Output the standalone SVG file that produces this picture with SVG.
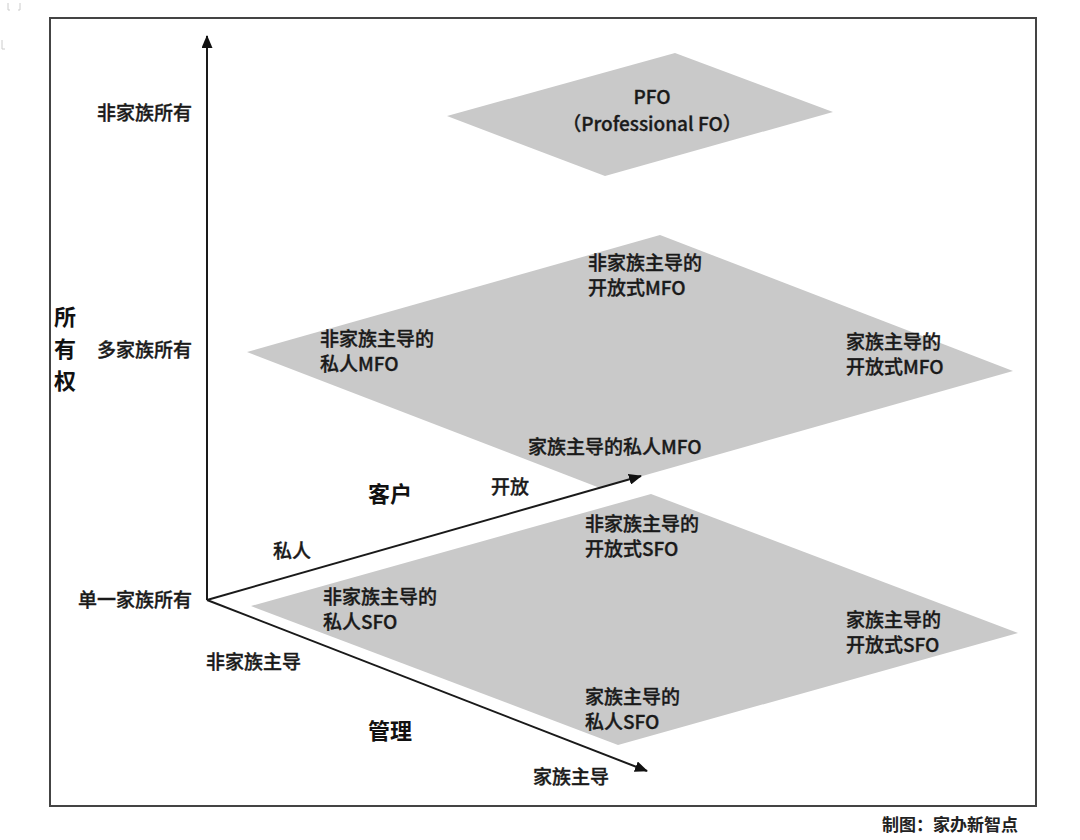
<svg xmlns="http://www.w3.org/2000/svg" width="1080" height="840" viewBox="0 0 1080 840">
<defs>
<marker id="ah" viewBox="0 0 13 11" refX="12" refY="5.5" markerWidth="13" markerHeight="11" markerUnits="userSpaceOnUse" orient="auto">
<path d="M0,0 L13,5.5 L0,11 Z" fill="#111"/>
</marker>
<style>
.t{font-family:"Noto Sans CJK SC","Noto Sans",sans-serif;font-size:19px;fill:#1a1a1a;stroke:#1a1a1a;stroke-width:0.35px;font-weight:500}
.b{font-family:"Noto Sans CJK SC","Noto Sans",sans-serif;font-size:22px;fill:#111;font-weight:700}
.plane{fill:#c9c9c9;stroke:none}
.ax{stroke:#1a1a1a;stroke-width:2;fill:none}
</style>
</defs>
<rect width="1080" height="840" fill="#fff"/>
<path d="M8,3 v7 h2 M20,3 v7 h-2 M2,40 v9 h3" stroke="#ccc" stroke-width="1" fill="none"/>
<rect x="50" y="18" width="986" height="788" fill="none" stroke="#444" stroke-width="2"/>

<g id="pfo">
<polygon class="plane" points="447,116 675,53 833,112 605,176"/>
<text class="t" x="652" y="104" text-anchor="middle">PFO</text>
<text class="t" x="652" y="131" text-anchor="middle">（Professional FO）</text>
</g>

<g id="mfo">
<polygon class="plane" points="247,352 660,235 1013,371 600,488"/>
<text class="t" x="588" y="270">非家族主导的</text>
<text class="t" x="588" y="295">开放式MFO</text>
<text class="t" x="320" y="346">非家族主导的</text>
<text class="t" x="320" y="371">私人MFO</text>
<text class="t" x="846" y="349">家族主导的</text>
<text class="t" x="846" y="374">开放式MFO</text>
<text class="t" x="528" y="454">家族主导的私人MFO</text>
</g>

<g id="sfo">
<polygon class="plane" points="251,606 651,494 1018,633 618,745"/>
<text class="t" x="585" y="531">非家族主导的</text>
<text class="t" x="585" y="556">开放式SFO</text>
<text class="t" x="323" y="604">非家族主导的</text>
<text class="t" x="323" y="629">私人SFO</text>
<text class="t" x="846" y="627">家族主导的</text>
<text class="t" x="846" y="652">开放式SFO</text>
<text class="t" x="585" y="704">家族主导的</text>
<text class="t" x="585" y="729">私人SFO</text>
</g>

<g id="connectors">
<line class="ax" x1="207" y1="600" x2="207" y2="36" marker-end="url(#ah)"/>
<line class="ax" x1="207" y1="600" x2="641" y2="476" marker-end="url(#ah)"/>
<line class="ax" x1="207" y1="600" x2="647" y2="771" marker-end="url(#ah)"/>
</g>

<g id="axis-labels">
<text class="t" x="97" y="120">非家族所有</text>
<text class="t" x="97" y="357">多家族所有</text>
<text class="t" x="78" y="607">单一家族所有</text>
<text class="b" x="54" y="325">所</text>
<text class="b" x="54" y="357">有</text>
<text class="b" x="54" y="389">权</text>
<text class="b" x="368" y="502">客户</text>
<text class="t" x="491" y="494">开放</text>
<text class="t" x="273" y="558">私人</text>
<text class="t" x="206" y="669">非家族主导</text>
<text class="b" x="368" y="739">管理</text>
<text class="t" x="533" y="784">家族主导</text>
</g>

<text x="882" y="831" style="font-family:'Noto Sans CJK SC',sans-serif;font-size:17px;font-weight:700;fill:#222">制图：家办新智点</text>
</svg>
